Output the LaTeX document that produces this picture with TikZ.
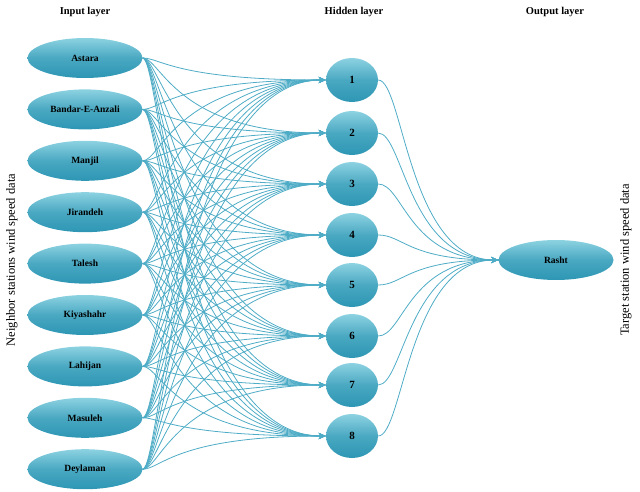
\documentclass[tikz,border=0pt]{standalone}
\usepackage{fontspec}
\setmainfont{Liberation Serif}
\usetikzlibrary{shapes.geometric,arrows.meta}
\definecolor{edge}{RGB}{78,172,198}
\definecolor{ftop}{RGB}{140,210,225}
\definecolor{fbot}{RGB}{45,150,180}
\begin{document}
\begin{tikzpicture}[x=1pt,y=-1pt,
  inp/.style={ellipse,minimum width=115pt,minimum height=40pt,top color=ftop,bottom color=fbot,middle color=fbot!70!ftop,draw=none,font=\bfseries\fontsize{9.5}{10}\selectfont},
  hid/.style={ellipse,minimum width=52pt,minimum height=44pt,top color=ftop,bottom color=fbot,middle color=fbot!70!ftop,draw=none,font=\bfseries\fontsize{11}{12}\selectfont},
  con/.style={draw=edge,line width=0.8pt,-{Stealth[length=7pt,width=6pt]}},
  ttl/.style={font=\bfseries\fontsize{10.5}{12}\selectfont}]
\useasboundingbox (0,0) rectangle (640,492);
\node[ttl] (t1) at (85,12) {Input layer};
\node[ttl] (t2) at (354,12) {Hidden layer};
\node[ttl] (t3) at (555,12) {Output layer};
\node[rotate=90,font=\fontsize{12.5}{14}\selectfont] (l) at (12,260) {Neighbor stations wind speed data};
\node[rotate=90,font=\fontsize{12.5}{14}\selectfont] (r) at (626,260) {Target station wind speed data};
\foreach \n [count=\i] in {Astara,Bandar-E-Anzali,Manjil,Jirandeh,Talesh,Kiyashahr,Lahijan,Masuleh,Deylaman}
  \node[inp] (i\i) at (85,{58+(\i-1)*51.4}) {\n};
\foreach \y [count=\j] in {80,133,184,235,285,336,385,436}
  \node[hid] (h\j) at (352,\y) {\j};
\node[inp] (o) at (556,260) {Rasht};
\foreach \i in {1,...,9}
  \foreach \j in {1,...,8}
    \draw[con] (i\i.east) to[out=0,in=180,out distance=18pt,in distance=150pt] (h\j.west);
\foreach \j in {1,...,8}
  \draw[con] (h\j.east) to[out=0,in=180,out distance=25pt,in distance=90pt] (o.west);
\end{tikzpicture}
\end{document}
